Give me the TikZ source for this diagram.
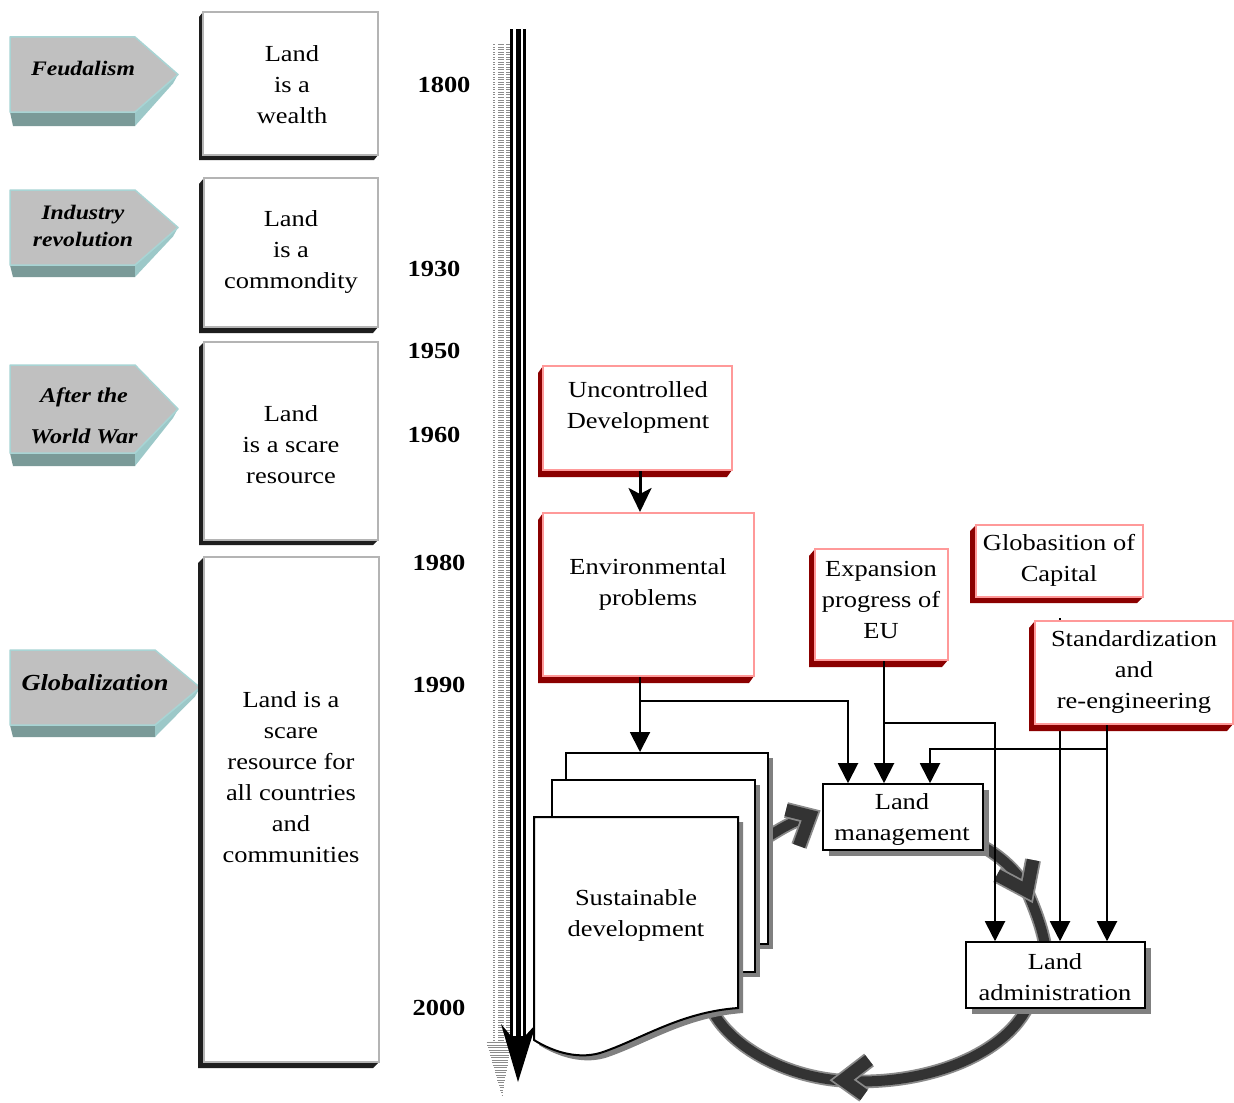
\documentclass[tikz,border=0pt]{standalone}
\usepackage{fontspec}
\setmainfont{Liberation Serif}[FakeStretch=1.15]
\usetikzlibrary{arrows.meta,calc,fit}
\definecolor{penface}{HTML}{C0C0C0}
\definecolor{penedge}{HTML}{A8D4D4}
\definecolor{penband}{HTML}{7A9A98}
\definecolor{penbevel}{HTML}{9CC8C8}
\definecolor{slabdark}{HTML}{1E1E1E}
\definecolor{slabred}{HTML}{8B0000}
\definecolor{pinkedge}{HTML}{FF9999}
\definecolor{grayedge}{HTML}{B4B4B4}
\definecolor{arcdark}{HTML}{333333}
\definecolor{arcedge}{HTML}{8A8A8A}
\definecolor{hatchgray}{HTML}{8C8C8C}
\definecolor{shadowgray}{HTML}{808080}

\newcommand{\slab}[7]{%
  \fill[#7] (#1,#2) -- ($(#1,#2)+(#5,#6)$) -- ($(#1,#4)+(#5,#6)$) -- ($(#3,#4)+(#5,#6)$) -- (#3,#4) -- (#1,#4) -- cycle;}
\newcommand{\pent}[6]{%
  \pgfmathsetmacro\pym{(#2+#5)/2}
  \fill[penband] (#1,#5) -- (#3,#5) -- (#3,#6) -- (#1+3,#6) -- cycle;
  \fill[penbevel] (#3,#5) -- (#4,\pym) -- (#4-5,\pym+9) -- (#3,#6) -- cycle;
  \draw[penedge, fill=penface, line width=0.75pt, line join=round] (#1,#2) -- (#3,#2) -- (#4,\pym) -- (#3,#5) -- (#1,#5) -- cycle;}
\newcommand{\dropshadow}[4]{\fill[shadowgray] ($(#1,#2)+(6,6)$) rectangle ($(#3,#4)+(6,6)$);}

\tikzset{
  boxtext/.style={align=center, font=\fontsize{11.5}{15.5}\selectfont, inner sep=0pt},
  yeartext/.style={font=\fontsize{11.5}{14}\selectfont\bfseries, inner sep=0pt},
  pentext/.style={align=center, inner sep=0pt},
  graybox/.style={draw=grayedge, line width=1pt, fill=white, inner sep=0pt},
  redbox/.style={draw=pinkedge, line width=1pt, fill=white, inner sep=0pt},
  plainbox/.style={draw=black, line width=0.8pt, fill=white, inner sep=0pt},
  docbox/.style={draw=black, line width=1pt, fill=white, inner sep=0pt},
  conn/.style={draw=black, line width=1pt, -{Triangle[length=10pt,width=10pt]}},
  arcout/.style={draw=arcedge, line width=6.8pt, line join=miter},
  arcin/.style={draw=arcdark, line width=5pt, line join=miter},
  chevout/.style={draw=arcedge, line width=8pt, line join=miter},
  chevin/.style={draw=arcdark, line width=6.2pt, line join=miter},
}

\begin{document}
\begin{tikzpicture}[x=0.5pt,y=-0.5pt]
\useasboundingbox (0,0) rectangle (1234,1102);
\fill[white] (0,0) rectangle (1234,1102);

% ---- timeline shadow hatch
\foreach \yy in {45,47.5,...,1042}
  \draw[hatchgray, line width=0.5pt, dash pattern=on 1pt off 1.5pt on 3pt off 1pt on 4pt] (493,\yy) -- (510,\yy);
\foreach \yy in {1042.5,1045,...,1095} {
  \pgfmathsetmacro\hq{(\yy-1040)/56}
  \draw[hatchgray, line width=0.5pt] (486+16*\hq,\yy) -- (512-10*\hq,\yy);}

% ---- timeline arrow
\fill[black] (501,1024) -- (511,1036) -- (525,1036) -- (536,1024) -- (518,1082) -- cycle;
\fill[black] (510,29) rectangle (513,1040);
\fill[black] (516,29) rectangle (521,1040);
\fill[black] (523,29) rectangle (526,1040);

% ---- era pentagons
\pent{10}{37}{135}{178}{112}{126}
\pent{10}{190}{135}{178}{265}{277}
\pent{10}{365}{135}{178}{453}{466}
\pent{10}{650}{155}{200}{725}{737}
\node[pentext, font=\fontsize{10.3}{13}\selectfont\bfseries\itshape] (p1) at (83,68) {Feudalism};
\node[pentext, font=\fontsize{10.3}{13.5}\selectfont\bfseries\itshape] (p2) at (83,226) {Industry\\revolution};
\node[pentext, font=\fontsize{10.5}{20.5}\selectfont\bfseries\itshape] (p3) at (84,416) {After the\\World War};
\node[pentext, font=\fontsize{11.5}{14}\selectfont\bfseries\itshape] (p4) at (95,683) {Globalization};

% ---- left boxes
\slab{203}{12}{378}{155}{-4}{5}{slabdark}
\node[fit={(203,12) (378,155)}, graybox] (b1) {};
\slab{204}{178}{378}{327}{-5}{6}{slabdark}
\node[fit={(204,178) (378,327)}, graybox] (b2) {};
\slab{204}{342}{378}{540}{-5}{5}{slabdark}
\node[fit={(204,342) (378,540)}, graybox] (b3) {};
\slab{204}{557}{379}{1062}{-6}{6}{slabdark}
\node[fit={(204,557) (379,1062)}, graybox] (b4) {};
\node[boxtext] (t1) at (292,85) {Land\\ is a\\wealth};
\node[boxtext] (t2) at (291,252) {Land\\ is a\\commondity};
\node[boxtext] (t3) at (291,445) {Land\\ is a scare\\resource};
\node[boxtext] (t4) at (291,777) {Land is a\\scare\\resource for\\all countries\\and\\communities};

% ---- years
\node[yeartext] (y1800) at (444,85) {1800};
\node[yeartext] (y1930) at (434,269) {1930};
\node[yeartext] (y1950) at (434,351) {1950};
\node[yeartext] (y1960) at (434,435) {1960};
\node[yeartext] (y1980) at (439,563) {1980};
\node[yeartext] (y1990) at (439,685) {1990};
\node[yeartext] (y2000) at (439,1008) {2000};

% ---- circular arrows
\foreach \st in {arcout,arcin} {
  \draw[\st] (1028,1006) .. controls (1000,1062) and (910,1088) .. (835,1080) .. controls (780,1074) and (730,1045) .. (712,1010);
  \draw[\st] (760,842) .. controls (778,830) and (796,819) .. (812,816);
  \draw[\st] (975,842) .. controls (1000,855) and (1020,873) .. (1028,893) .. controls (1036,912) and (1042,928) .. (1045,945);
}
\foreach \st in {chevout,chevin} {
  \draw[\st] (869,1060) -- (843,1080) -- (864,1095);
  \draw[\st] (786,810) -- (810,816) -- (799,846);
  \draw[\st] (1033,860) -- (1027,891) -- (997,875);
}

% ---- documents
\fill[shadowgray] (571,758) rectangle (773,949);
\node[fit={(566,753) (768,944)}, docbox] (doc3) {};
\fill[shadowgray] (557,785) rectangle (760,977);
\node[fit={(552,780) (755,972)}, docbox] (doc2) {};
\fill[shadowgray, shift={(5,5)}] (534,817) -- (738,817) -- (738,1008) .. controls (680,1012) and (640,1040) .. (600,1053) .. controls (575,1060) and (550,1050) .. (534,1040) -- cycle;
\draw[docbox] (534,817) -- (738,817) -- (738,1008) .. controls (680,1012) and (640,1040) .. (600,1053) .. controls (575,1060) and (550,1050) .. (534,1040) -- cycle;
\node[fit={(534,817) (738,1040)}, inner sep=0pt] (doc1) {};
\node[boxtext] (tdoc) at (636,915) {Sustainable\\development};

% ---- land management / administration
\dropshadow{823}{784}{983}{850}
\node[fit={(823,784) (983,850)}, plainbox] (lm) {};
\node[boxtext] (tlm) at (902,819) {Land\\management};
\dropshadow{966}{942}{1145}{1008}
\node[fit={(966,942) (1145,1008)}, plainbox] (la) {};
\node[boxtext] (tla) at (1055,977) {Land\\administration};

% ---- red boxes
\slab{543}{366}{732}{470}{-5}{7}{slabred}
\node[fit={(543,366) (732,470)}, redbox] (ucd) {};
\node[boxtext] (tucd) at (638,407) {Uncontrolled\\Development};
\slab{543}{513}{754}{676}{-5}{7}{slabred}
\node[fit={(543,513) (754,676)}, redbox] (env) {};
\node[boxtext] (tenv) at (648,584) {Environmental\\problems};
\slab{815}{549}{948}{660}{-6}{7}{slabred}
\node[fit={(815,549) (948,660)}, redbox] (eu) {};
\node[boxtext] (teu) at (881,600) {Expansion\\progress of\\EU};
\slab{976}{525}{1143}{597}{-6}{6}{slabred}
\node[fit={(976,525) (1143,597)}, redbox] (glob) {};
\node[boxtext] (tglob) at (1059,560) {Globasition of\\Capital};

\draw[conn, shorten <=10pt] (1060,0 |- glob.south) -- (1060,0 |- la.north);

\slab{1035}{621}{1233}{724}{-6}{7}{slabred}
\node[fit={(1035,621) (1233,724)}, redbox] (std) {};
\node[boxtext] (tstd) at (1134,672) {Standardization\\and\\re-engineering};

% ---- connectors
\draw[line width=1.5pt, -{Stealth[length=12pt,width=11.5pt,inset=3pt]}] (640,0 |- ucd.south) -- (640,0 |- env.north);
\draw[conn] (640,0 |- env.south) -- (640,0 |- doc3.north);
\draw[conn] (640,0 |- env.south) -- (640,701) -| (848,0 |- lm.north);
\draw[conn] (884,0 |- eu.south) -- (884,0 |- lm.north);
\draw[conn] (884,0 |- eu.south) -- (884,723) -| (995,0 |- la.north);
\draw[conn] (1107,0 |- std.south) -- (1107,749) -| (930,0 |- lm.north);
\draw[conn] (1107,0 |- std.south) -- (1107,0 |- la.north);
\end{tikzpicture}
\end{document}
